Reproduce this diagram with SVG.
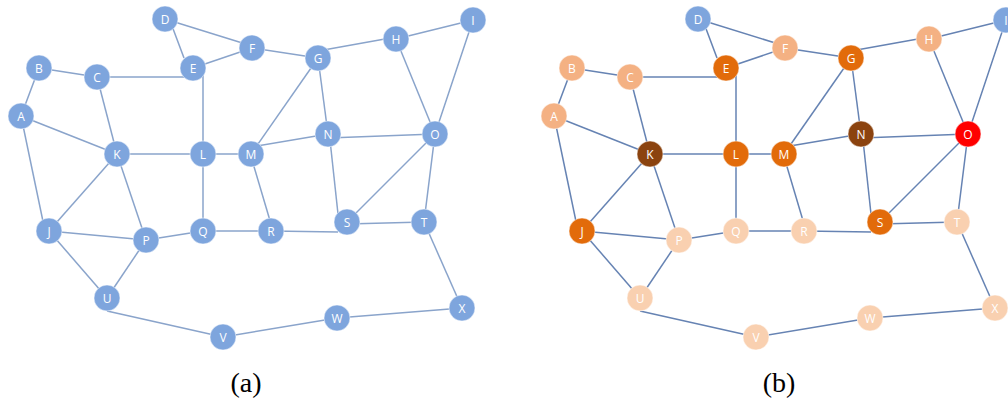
<svg xmlns="http://www.w3.org/2000/svg" width="1008" height="402" viewBox="0 0 1008 402">
<defs>
<style>
.ea{stroke:#8aa4cb;stroke-width:1.5;fill:none}
.eb{stroke:#6683b3;stroke-width:1.5;fill:none}
.n circle{stroke:#ffffff;stroke-opacity:0.5;stroke-width:1}
.n text{font-family:"Open Sans","Liberation Sans",sans-serif;font-size:12px;fill:#ffffff;text-anchor:middle;dominant-baseline:central}
.blue circle{fill:#7ea5dd}
.pk circle{fill:#f4b183}
.pl circle{fill:#f9d0b0}
.or circle{fill:#e26b0a}
.br circle{fill:#8b430f}
.rd circle{fill:#ff0000}
.cap{font-family:"Liberation Serif","DejaVu Serif",serif;font-size:28px;fill:#000;text-anchor:middle}
</style>
<g id="edges-src">
<line x1="172" y1="26" x2="184" y2="58"/>
<line x1="165" y1="19" x2="252" y2="46"/>
<line x1="193" y1="68" x2="252" y2="48"/>
<line x1="39" y1="68" x2="97" y2="77"/>
<line x1="97" y1="77" x2="190" y2="77"/>
<line x1="21" y1="116" x2="39" y2="68"/>
<line x1="21" y1="116" x2="117" y2="154"/>
<line x1="97" y1="77" x2="117" y2="154"/>
<line x1="203" y1="72" x2="203" y2="154"/>
<line x1="117" y1="154" x2="251" y2="154"/>
<line x1="252" y1="48" x2="318" y2="58"/>
<line x1="318" y1="51" x2="396" y2="37"/>
<line x1="396" y1="39" x2="473" y2="20"/>
<line x1="318" y1="58" x2="251" y2="154"/>
<line x1="318" y1="58" x2="328" y2="134"/>
<line x1="251" y1="147" x2="328" y2="134"/>
<line x1="328" y1="138" x2="435" y2="134"/>
<line x1="396" y1="39" x2="435" y2="134"/>
<line x1="473" y1="20" x2="435" y2="134"/>
<line x1="21" y1="116" x2="45" y2="231"/>
<line x1="117" y1="154" x2="49" y2="231"/>
<line x1="117" y1="154" x2="146" y2="240"/>
<line x1="49" y1="231" x2="146" y2="240"/>
<line x1="146" y1="240" x2="203" y2="231"/>
<line x1="203" y1="154" x2="203" y2="231"/>
<line x1="203" y1="231" x2="271" y2="231"/>
<line x1="252" y1="160" x2="271" y2="224"/>
<line x1="271" y1="231" x2="338" y2="232"/>
<line x1="330" y1="140" x2="338" y2="214"/>
<line x1="347" y1="222" x2="435" y2="134"/>
<line x1="347" y1="224" x2="424" y2="222"/>
<line x1="435" y1="134" x2="424" y2="222"/>
<line x1="49" y1="231" x2="107" y2="298"/>
<line x1="146" y1="240" x2="107" y2="298"/>
<line x1="107" y1="311" x2="223" y2="337"/>
<line x1="223" y1="337" x2="337" y2="318"/>
<line x1="337" y1="318" x2="462" y2="308"/>
<line x1="424" y1="222" x2="462" y2="308"/>
</g>
</defs>
<g id="connectors">
<use id="connectors-a" class="ea" href="#edges-src"/>
<use id="connectors-b" class="eb" href="#edges-src" transform="translate(533,0)"/>
</g>
<g id="graph-a">
<g id="a-A" class="n blue"><circle cx="21" cy="116" r="13"/><text x="21" y="116">A</text></g>
<g id="a-B" class="n blue"><circle cx="39" cy="68" r="13"/><text x="39" y="68">B</text></g>
<g id="a-C" class="n blue"><circle cx="97" cy="77" r="13"/><text x="97" y="77">C</text></g>
<g id="a-D" class="n blue"><circle cx="165" cy="19" r="13"/><text x="165" y="19">D</text></g>
<g id="a-E" class="n blue"><circle cx="193" cy="68" r="13"/><text x="193" y="68">E</text></g>
<g id="a-F" class="n blue"><circle cx="252" cy="48" r="13"/><text x="252" y="48">F</text></g>
<g id="a-G" class="n blue"><circle cx="318" cy="58" r="13"/><text x="318" y="58">G</text></g>
<g id="a-H" class="n blue"><circle cx="396" cy="39" r="13"/><text x="396" y="39">H</text></g>
<g id="a-I" class="n blue"><circle cx="473" cy="20" r="13"/><text x="473" y="20">I</text></g>
<g id="a-J" class="n blue"><circle cx="49" cy="231" r="13"/><text x="49" y="231">J</text></g>
<g id="a-K" class="n blue"><circle cx="117" cy="154" r="13"/><text x="117" y="154">K</text></g>
<g id="a-L" class="n blue"><circle cx="203" cy="154" r="13"/><text x="203" y="154">L</text></g>
<g id="a-M" class="n blue"><circle cx="251" cy="154" r="13"/><text x="251" y="154">M</text></g>
<g id="a-N" class="n blue"><circle cx="328" cy="134" r="13"/><text x="328" y="134">N</text></g>
<g id="a-O" class="n blue"><circle cx="435" cy="134" r="13"/><text x="435" y="134">O</text></g>
<g id="a-P" class="n blue"><circle cx="146" cy="240" r="13"/><text x="146" y="240">P</text></g>
<g id="a-Q" class="n blue"><circle cx="203" cy="231" r="13"/><text x="203" y="231">Q</text></g>
<g id="a-R" class="n blue"><circle cx="271" cy="231" r="13"/><text x="271" y="231">R</text></g>
<g id="a-S" class="n blue"><circle cx="347" cy="222" r="13"/><text x="347" y="222">S</text></g>
<g id="a-T" class="n blue"><circle cx="424" cy="222" r="13"/><text x="424" y="222">T</text></g>
<g id="a-U" class="n blue"><circle cx="107" cy="298" r="13"/><text x="107" y="298">U</text></g>
<g id="a-V" class="n blue"><circle cx="223" cy="337" r="13"/><text x="223" y="337">V</text></g>
<g id="a-W" class="n blue"><circle cx="337" cy="318" r="13"/><text x="337" y="318">W</text></g>
<g id="a-X" class="n blue"><circle cx="462" cy="308" r="13"/><text x="462" y="308">X</text></g>
<text class="cap" x="246" y="392">(a)</text>
</g>
<g id="graph-b" transform="translate(533,0)">
<g id="b-A" class="n pk"><circle cx="21" cy="116" r="13"/><text x="21" y="116">A</text></g>
<g id="b-B" class="n pk"><circle cx="39" cy="68" r="13"/><text x="39" y="68">B</text></g>
<g id="b-C" class="n pk"><circle cx="97" cy="77" r="13"/><text x="97" y="77">C</text></g>
<g id="b-D" class="n blue"><circle cx="165" cy="19" r="13"/><text x="165" y="19">D</text></g>
<g id="b-E" class="n or"><circle cx="193" cy="68" r="13"/><text x="193" y="68">E</text></g>
<g id="b-F" class="n pk"><circle cx="252" cy="48" r="13"/><text x="252" y="48">F</text></g>
<g id="b-G" class="n or"><circle cx="318" cy="58" r="13"/><text x="318" y="58">G</text></g>
<g id="b-H" class="n pk"><circle cx="396" cy="39" r="13"/><text x="396" y="39">H</text></g>
<g id="b-I" class="n blue"><circle cx="473" cy="20" r="13"/><text x="473" y="20">I</text></g>
<g id="b-J" class="n or"><circle cx="49" cy="231" r="13"/><text x="49" y="231">J</text></g>
<g id="b-K" class="n br"><circle cx="117" cy="154" r="13"/><text x="117" y="154">K</text></g>
<g id="b-L" class="n or"><circle cx="203" cy="154" r="13"/><text x="203" y="154">L</text></g>
<g id="b-M" class="n or"><circle cx="251" cy="154" r="13"/><text x="251" y="154">M</text></g>
<g id="b-N" class="n br"><circle cx="328" cy="134" r="13"/><text x="328" y="134">N</text></g>
<g id="b-O" class="n rd"><circle cx="435" cy="134" r="13"/><text x="435" y="134">O</text></g>
<g id="b-P" class="n pl"><circle cx="146" cy="240" r="13"/><text x="146" y="240">P</text></g>
<g id="b-Q" class="n pl"><circle cx="203" cy="231" r="13"/><text x="203" y="231">Q</text></g>
<g id="b-R" class="n pl"><circle cx="271" cy="231" r="13"/><text x="271" y="231">R</text></g>
<g id="b-S" class="n or"><circle cx="347" cy="222" r="13"/><text x="347" y="222">S</text></g>
<g id="b-T" class="n pl"><circle cx="424" cy="222" r="13"/><text x="424" y="222">T</text></g>
<g id="b-U" class="n pl"><circle cx="107" cy="298" r="13"/><text x="107" y="298">U</text></g>
<g id="b-V" class="n pl"><circle cx="223" cy="337" r="13"/><text x="223" y="337">V</text></g>
<g id="b-W" class="n pl"><circle cx="337" cy="318" r="13"/><text x="337" y="318">W</text></g>
<g id="b-X" class="n pl"><circle cx="462" cy="308" r="13"/><text x="462" y="308">X</text></g>
<text class="cap" x="246" y="392">(b)</text>
</g>
</svg>
